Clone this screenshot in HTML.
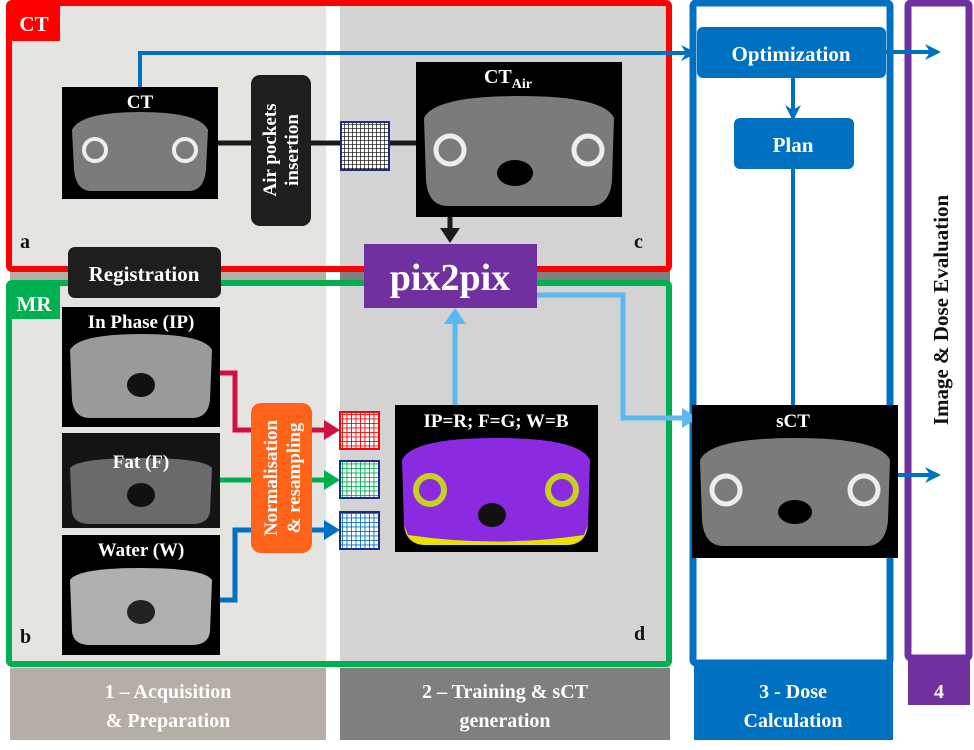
<!DOCTYPE html>
<html><head><meta charset="utf-8"><style>
html,body{margin:0;padding:0;background:#fff;}
svg{display:block;font-family:"Liberation Serif",serif;font-weight:bold;}
</style></head><body>
<svg width="974" height="750" viewBox="0 0 974 750" xmlns="http://www.w3.org/2000/svg">
<defs>
<pattern id="g" width="4" height="4" patternUnits="userSpaceOnUse"><rect width="4" height="4" fill="#fff"/><path d="M0 0H4M0 0V4" stroke="#000" stroke-width="1.3"/></pattern>
<pattern id="gr" width="4.5" height="4.5" patternUnits="userSpaceOnUse"><rect width="4.5" height="4.5" fill="#fff"/><path d="M0 0H4.5M0 0V4.5" stroke="#f00" stroke-width="1.8"/></pattern>
<pattern id="gg" width="4.5" height="4.5" patternUnits="userSpaceOnUse"><rect width="4.5" height="4.5" fill="#fff"/><path d="M0 0H4.5M0 0V4.5" stroke="#00b050" stroke-width="1.8"/></pattern>
<pattern id="gb" width="4.5" height="4.5" patternUnits="userSpaceOnUse"><rect width="4.5" height="4.5" fill="#fff"/><path d="M0 0H4.5M0 0V4.5" stroke="#0070c0" stroke-width="1.8"/></pattern>
<marker id="ab" markerWidth="16" markerHeight="16" refX="13" refY="8" orient="auto" markerUnits="userSpaceOnUse"><path d="M0 0L16 8L0 16L5 8Z" fill="#0070c0"/></marker>
</defs>
<rect x="10" y="0" width="316" height="668" fill="#e6e4e0"/>
<rect x="340" y="0" width="330" height="668" fill="#d3d3d3"/>
<rect x="10" y="270" width="316" height="12" fill="#b5aea7"/>
<rect x="340" y="270" width="330" height="12" fill="#7f7f7f"/>
<rect x="10" y="668" width="316" height="72" fill="#b5aea7"/>
<rect x="340" y="668" width="330" height="72" fill="#7f7f7f"/>
<rect x="694" y="660" width="199" height="80" fill="#0070c0"/>
<rect x="908" y="660" width="62" height="45" fill="#7030a0"/>
<g fill="#fff" font-size="20" text-anchor="middle">
<text x="168" y="698">1 – Acquisition</text><text x="168" y="727">&amp; Preparation</text>
<text x="505" y="698">2 – Training &amp; sCT</text><text x="505" y="727">generation</text>
<text x="793" y="698">3 - Dose</text><text x="793" y="727">Calculation</text>
<text x="939" y="698">4</text>
</g>
<rect x="9" y="3" width="660" height="266" fill="none" stroke="#f00" stroke-width="6" rx="3"/>
<rect x="8" y="3" width="52" height="38" fill="#f00"/>
<text x="34" y="31" fill="#fff" font-size="21" text-anchor="middle">CT</text>
<rect x="9" y="283" width="660" height="381" fill="none" stroke="#00b050" stroke-width="6" rx="3"/>
<rect x="8" y="281" width="52" height="38" fill="#00b050"/>
<text x="34" y="311" fill="#fff" font-size="21" text-anchor="middle">MR</text>
<rect x="693" y="3" width="197" height="660" fill="none" stroke="#0070c0" stroke-width="7" rx="3"/>
<rect x="908" y="3" width="61" height="655" fill="none" stroke="#7030a0" stroke-width="7" rx="3"/>
<text transform="translate(948 310) rotate(-90)" font-size="21" text-anchor="middle" fill="#111">Image &amp; Dose Evaluation</text>
<g font-size="20" fill="#111"><text x="20" y="248">a</text><text x="20" y="643">b</text><text x="634" y="248">c</text><text x="634" y="640">d</text></g>
<path d="M140 88V53H694" fill="none" stroke="#0070c0" stroke-width="4" marker-end="url(#ab)"/>
<path d="M886 52H938" fill="none" stroke="#0070c0" stroke-width="4" marker-end="url(#ab)"/>
<path d="M895 475H938" fill="none" stroke="#0070c0" stroke-width="4" marker-end="url(#ab)"/>
<path d="M793 78V118" fill="none" stroke="#0070c0" stroke-width="4" marker-end="url(#ab)"/>
<path d="M793 168V405" fill="none" stroke="#0070c0" stroke-width="4"/>
<path d="M218 143H418" stroke="#1a1a1a" stroke-width="5"/>
<path d="M450 217V232" stroke="#1a1a1a" stroke-width="5"/><path d="M440 228L450 243L460 228Z" fill="#1a1a1a"/>
<path d="M455 405V322" stroke="#5bb8f0" stroke-width="5"/><path d="M444 324L455 308L466 324Z" fill="#5bb8f0"/>
<path d="M537 295H623V418H686" fill="none" stroke="#5bb8f0" stroke-width="5"/><path d="M682 408L698 418L682 428Z" fill="#5bb8f0"/>
<path d="M220 373H235V430H328" fill="none" stroke="#d01040" stroke-width="5"/><path d="M324 420L340 430L324 440Z" fill="#d01040"/>
<path d="M220 480H328" fill="none" stroke="#00b050" stroke-width="5"/><path d="M324 470L340 480L324 490Z" fill="#00b050"/>
<path d="M220 600H235V530H328" fill="none" stroke="#0070c0" stroke-width="5"/><path d="M324 520L340 530L324 540Z" fill="#0070c0"/>
<rect x="62" y="87" width="156" height="112" fill="#000"/>
<path d="M72 130Q80 112 140 112Q200 112 208 130L206 170Q204 190 190 191H90Q76 190 74 170Z" fill="#7b7b7b"/>
<circle cx="95" cy="150" r="11" fill="none" stroke="#eee" stroke-width="4"/><circle cx="185" cy="150" r="11" fill="none" stroke="#eee" stroke-width="4"/>
<text x="140" y="108" fill="#fff" font-size="19" text-anchor="middle">CT</text>
<rect x="251" y="75" width="60" height="151" rx="9" fill="#1e1e1e"/>
<text transform="translate(276 150) rotate(-90)" fill="#fff" font-size="19" text-anchor="middle">Air pockets</text>
<text transform="translate(298 150) rotate(-90)" fill="#fff" font-size="19" text-anchor="middle">insertion</text>
<rect x="341" y="122" width="48" height="48" fill="url(#g)" stroke="#1e2a8a" stroke-width="2"/>
<rect x="416" y="62" width="206" height="155" fill="#000"/>
<path d="M424 118Q434 96 519 96Q604 96 614 118L612 180Q610 206 590 206H448Q428 206 426 180Z" fill="#7b7b7b"/>
<circle cx="450" cy="150" r="14" fill="none" stroke="#eee" stroke-width="5"/><circle cx="588" cy="150" r="14" fill="none" stroke="#eee" stroke-width="5"/>
<ellipse cx="515" cy="173" rx="18" ry="13" fill="#000"/>
<text x="508" y="83" fill="#fff" font-size="20" text-anchor="middle">CT<tspan font-size="14" dy="5">Air</tspan></text>
<rect x="364" y="244" width="173" height="64" fill="#7030a0"/>
<text x="450" y="290" fill="#fff" font-size="38" text-anchor="middle">pix2pix</text>
<rect x="68" y="247" width="153" height="51" rx="7" fill="#1e1e1e"/>
<text x="144" y="281" fill="#fff" font-size="21" text-anchor="middle">Registration</text>
<rect x="697" y="27" width="189" height="51" rx="6" fill="#0070c0"/>
<text x="791" y="61" fill="#fff" font-size="21" text-anchor="middle">Optimization</text>
<rect x="734" y="118" width="120" height="51" rx="6" fill="#0070c0"/>
<text x="793" y="152" fill="#fff" font-size="21" text-anchor="middle">Plan</text>
<rect x="692" y="405" width="206" height="153" fill="#000"/>
<path d="M700 460Q710 438 795 438Q880 438 890 460L888 520Q886 546 866 546H724Q704 546 702 520Z" fill="#7b7b7b"/>
<circle cx="726" cy="490" r="14" fill="none" stroke="#eee" stroke-width="5"/><circle cx="864" cy="490" r="14" fill="none" stroke="#eee" stroke-width="5"/>
<ellipse cx="795" cy="512" rx="17" ry="12" fill="#000"/>
<text x="793" y="427" fill="#fff" font-size="19" text-anchor="middle">sCT</text>
<rect x="62" y="307" width="158" height="120" fill="#000"/>
<path d="M70 350Q78 334 141 334Q204 334 212 350L210 400Q208 418 192 418H90Q74 418 72 400Z" fill="#9a9a9a"/>
<ellipse cx="141" cy="385" rx="14" ry="12" fill="#111"/>
<text x="141" y="328" fill="#fff" font-size="19" text-anchor="middle">In Phase (IP)</text>
<rect x="62" y="433" width="158" height="95" fill="#141414"/>
<path d="M70 468Q78 458 141 458Q204 458 212 468L210 512Q208 524 192 524H90Q74 524 72 512Z" fill="#6a6a6a"/>
<ellipse cx="141" cy="495" rx="14" ry="12" fill="#111"/>
<text x="141" y="468" fill="#fff" font-size="19" text-anchor="middle">Fat (F)</text>
<rect x="62" y="535" width="158" height="120" fill="#000"/>
<path d="M70 580Q78 568 141 568Q204 568 212 580L210 632Q208 645 192 645H90Q74 645 72 632Z" fill="#b0b0b0"/>
<ellipse cx="141" cy="612" rx="14" ry="12" fill="#222"/>
<text x="141" y="556" fill="#fff" font-size="19" text-anchor="middle">Water (W)</text>
<rect x="251" y="403" width="61" height="150" rx="10" fill="#ff6319"/>
<text transform="translate(277 478) rotate(-90)" fill="#fff" font-size="19" text-anchor="middle">Normalisation</text>
<text transform="translate(300 478) rotate(-90)" fill="#fff" font-size="19" text-anchor="middle">&amp; resampling</text>
<rect x="340" y="412" width="39" height="37" fill="url(#gr)" stroke="#f00" stroke-width="2"/>
<rect x="340" y="461" width="39" height="37" fill="url(#gg)" stroke="#1e2a8a" stroke-width="2"/>
<rect x="340" y="512" width="39" height="37" fill="url(#gb)" stroke="#1e2a8a" stroke-width="2"/>
<rect x="395" y="405" width="203" height="147" fill="#000"/>
<path d="M402 460Q412 438 496 438Q580 438 590 460L588 525Q586 545 566 545H426Q406 545 404 525Z" fill="#8a2be2"/>
<path d="M404 525Q406 545 426 545H566Q586 545 588 525L584 535Q496 548 408 535Z" fill="#e8e000"/>
<circle cx="430" cy="490" r="14" fill="none" stroke="#c8d020" stroke-width="6"/><circle cx="562" cy="490" r="14" fill="none" stroke="#c8d020" stroke-width="6"/>
<ellipse cx="492" cy="515" rx="14" ry="12" fill="#111"/>
<text x="496" y="427" fill="#fff" font-size="19" text-anchor="middle">IP=R; F=G; W=B</text>
</svg>
</body></html>
